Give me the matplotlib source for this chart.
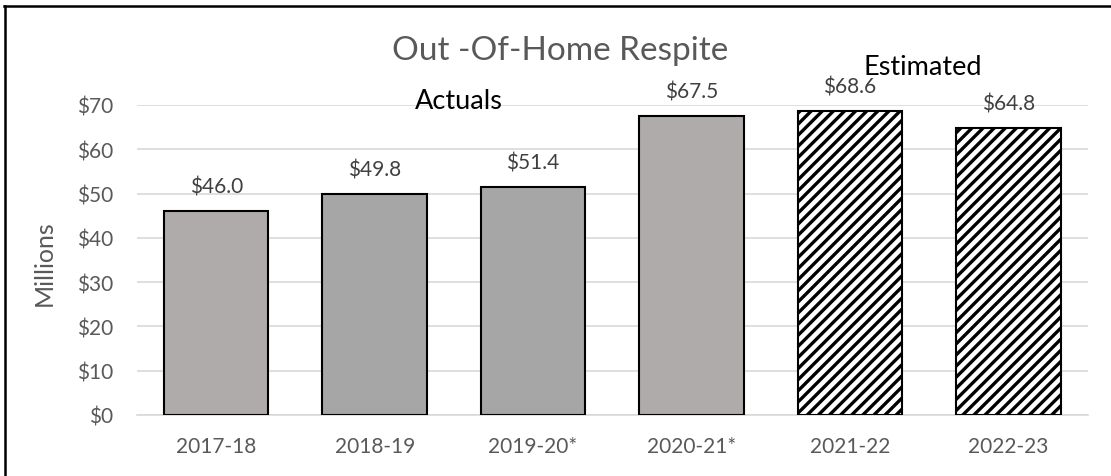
import matplotlib
matplotlib.use('Agg')
import matplotlib.pyplot as plt
from matplotlib.lines import Line2D

years = ['2017-18', '2018-19', '2019-20*', '2020-21*', '2021-22', '2022-23']
spending = [46.0, 49.8, 51.4, 67.5, 68.6, 64.8]
estimated = [False, False, False, False, True, True]
bar_colors = ['#AEABAA', '#A6A6A6', '#A6A6A6', '#AEABAA', 'white', 'white']
y_ticks = [0, 10, 20, 30, 40, 50, 60, 70]

plt.rcParams['font.family'] = ['Lato', 'DejaVu Sans']
plt.rcParams['hatch.linewidth'] = 2.4
plt.rcParams['hatch.color'] = 'black'

fig = plt.figure(figsize=(11.11, 4.77), dpi=100)
ax = fig.add_axes([0.1233, 0.1279, 0.8557, 0.6499])

x = list(range(len(years)))
for i in x:
    ax.bar(i, spending[i], width=0.66, color=bar_colors[i], edgecolor='black',
           linewidth=1.5, hatch='///' if estimated[i] else None, zorder=3)
    ax.annotate(f'${spending[i]:.1f}', (i, spending[i]), xytext=(0, 18),
                textcoords='offset points', ha='center', va='center',
                fontsize=15, color='#404040', annotation_clip=False)

ax.set_xlim(-0.5, len(years) - 0.5)
ax.set_ylim(0, 70)
ax.set_yticks(y_ticks)
ax.set_yticklabels([f'${v}' for v in y_ticks])
ax.set_xticks(x)
ax.set_xticklabels(years)
ax.tick_params(axis='both', length=0, labelsize=15, colors='#595959')
ax.tick_params(axis='y', pad=17)
ax.tick_params(axis='x', pad=15)
ax.grid(axis='y', color='#D9D9D9', linewidth=1.2, zorder=0)
for side in ['top', 'right', 'left']:
    ax.spines[side].set_visible(False)
ax.spines['bottom'].set_color('#D9D9D9')
ax.spines['bottom'].set_linewidth(1.2)

fig.text(0.504, 0.893, 'Out -Of-Home Respite', ha='center', va='center',
         fontsize=24, color='#595959')
fig.text(0.413, 0.787, 'Actuals', ha='center', va='center', fontsize=19.5, color='black')
fig.text(0.831, 0.858, 'Estimated', ha='center', va='center', fontsize=19.5, color='black')
fig.text(0.040, 0.449, 'Millions', ha='center', va='center', rotation=90,
         fontsize=18, color='#595959')

# frame edges on the top and left
fig.add_artist(Line2D([0.004, 1.0], [0.985, 0.985], color='black', linewidth=1.8))
fig.add_artist(Line2D([0.0045, 0.0045], [0.0, 0.985], color='black', linewidth=1.8))

fig.savefig('out.png', dpi=100)
